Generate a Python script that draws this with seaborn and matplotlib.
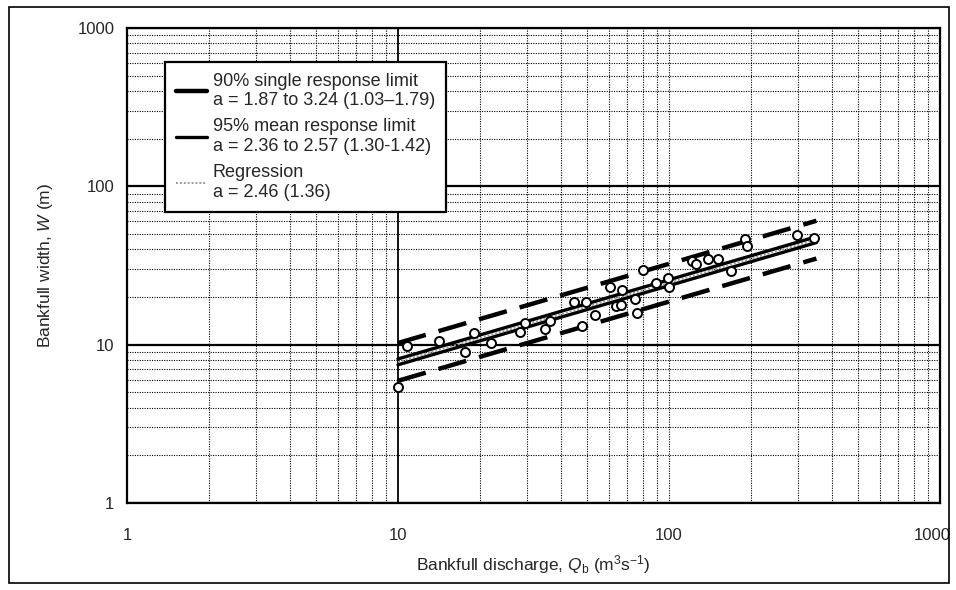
import numpy as np
import pandas as pd
import matplotlib
matplotlib.use("Agg")
import matplotlib.pyplot as plt
import matplotlib.transforms as mtransforms
import seaborn as sns
from matplotlib.lines import Line2D
from matplotlib.patches import Rectangle
from matplotlib.ticker import LogLocator, NullFormatter, FixedLocator, FixedFormatter

# bankfull discharge (m3/s) and width (m)
discharge = [10.0, 10.8, 14.2, 17.7, 19.0, 22.1, 28.1, 29.3, 34.9, 36.4, 44.8,
             47.9, 49.6, 53.3, 60.5, 64.0, 66.7, 67.3, 74.8, 76.3, 80.2, 89.8,
             99.1, 99.6, 121.6, 126.0, 139.0, 151.0, 169.0, 190.0, 194.0, 296.0, 343.0]
width = [5.4, 9.76, 10.6, 9.0, 11.8, 10.3, 12.1, 13.8, 12.6, 14.1, 18.5,
         13.1, 18.5, 15.5, 23.2, 17.5, 17.9, 22.1, 19.3, 15.9, 29.5, 24.6,
         26.4, 23.2, 33.7, 32.1, 34.9, 34.6, 29.1, 46.7, 41.9, 49.2, 46.9]

# W = a * Q^b
exponent = 0.5
a_single = [1.87, 3.24]
a_mean = [2.36, 2.57]
a_reg = 2.46
q_range = [10, 350]

tick_vals = [1, 10, 100, 1000]
tick_labels = ["1", "10", "100", "1000"]

sns.set_style("white")
plt.rcParams["font.family"] = ["Liberation Sans", "DejaVu Sans"]
plt.rcParams["mathtext.fontset"] = "custom"
plt.rcParams["mathtext.rm"] = "Liberation Sans"
plt.rcParams["mathtext.it"] = "Liberation Sans:italic"

fig = plt.figure(figsize=(9.56, 5.9), dpi=100)
ax = fig.add_axes([127 / 956, 87 / 590, 813 / 956, 475 / 590])

q = np.geomspace(q_range[0], q_range[1], 50)


def curve(a):
    return pd.DataFrame({"Q": q, "W": a * q ** exponent})


for a in a_single:
    sns.lineplot(data=curve(a), x="Q", y="W", ax=ax, color="black", lw=3.2,
                 zorder=4).lines[-1].set_dashes((6.5, 3))
for a in a_mean:
    sns.lineplot(data=curve(a), x="Q", y="W", ax=ax, color="black", lw=2.4, zorder=4)
sns.lineplot(data=curve(a_reg), x="Q", y="W", ax=ax, color="#9a9a9a", lw=1.4,
             linestyle=(0, (1, 1)), zorder=4)

pts = pd.DataFrame({"Q": discharge, "W": width})
sns.scatterplot(data=pts, x="Q", y="W", ax=ax, s=42, facecolor="white",
                edgecolor="black", linewidth=1.4, zorder=5)

ax.set_xscale("log")
ax.set_yscale("log")
ax.set_xlim(1, 1000)
ax.set_ylim(1, 1000)

for axis in (ax.xaxis, ax.yaxis):
    axis.set_major_locator(FixedLocator(tick_vals))
    axis.set_major_formatter(FixedFormatter(tick_labels))
    axis.set_minor_locator(LogLocator(base=10, subs=np.arange(2, 10)))
    axis.set_minor_formatter(NullFormatter())

ax.tick_params(which="both", length=0, labelsize=12)
ax.tick_params(axis="x", pad=18)
ax.tick_params(axis="y", pad=9)

# the last x label sits a little inside the figure frame
last = ax.get_xticklabels()[-1]
last.set_transform(last.get_transform() + mtransforms.ScaledTranslation(-8 / 100, 0, fig.dpi_scale_trans))

ax.grid(which="minor", axis="both", color="black", linestyle=(0, (1, 1.2)), lw=0.8, zorder=1)
ax.grid(which="major", axis="y", color="black", linestyle="-", lw=1.6, zorder=1)
ax.axvline(10, color="black", lw=1.3, zorder=1)
ax.axvline(100, color="black", lw=0.8, linestyle=(0, (1, 1.2)), zorder=1)

for s in ax.spines.values():
    s.set_color("black")
    s.set_linewidth(1.6)

ax.set_xlabel(r"Bankfull discharge, $Q_\mathregular{b}$ (m$^3$s$^{-1}$)", fontsize=12.5, va="center")
ax.set_ylabel(r"Bankfull width, $W$ (m)", fontsize=12.5, va="center")
ax.xaxis.set_label_coords(0.5, -(565 - 503) / 475)
ax.yaxis.set_label_coords(-(127 - 46) / 813, 0.5)

handles = [
    Line2D([], [], color="black", lw=3.2, linestyle="-"),
    Line2D([], [], color="black", lw=2.4),
    Line2D([], [], color="#9a9a9a", lw=1.4, linestyle=(0, (1, 1))),
]
labels = [
    "90% single response limit\na = 1.87 to 3.24 (1.03\u20131.79)",
    "95% mean response limit\na = 2.36 to 2.57 (1.30-1.42)",
    "Regression\na = 2.46 (1.36)",
]
leg = ax.legend(handles, labels, loc="upper left", bbox_to_anchor=(38 / 813, (503 - 62) / 475),
                borderaxespad=0, fontsize=13, frameon=True, fancybox=False,
                edgecolor="black", framealpha=1, handlelength=1.7, handletextpad=0.35,
                labelspacing=0.5, borderpad=0.6)
leg.get_frame().set_linewidth(1.6)
leg.set_zorder(6)

fig.patches.append(Rectangle((9 / 956, 7 / 590), 940 / 956, 576 / 590, transform=fig.transFigure,
                             fill=False, edgecolor="black", lw=1.2))

fig.savefig("out.png", dpi=100)
